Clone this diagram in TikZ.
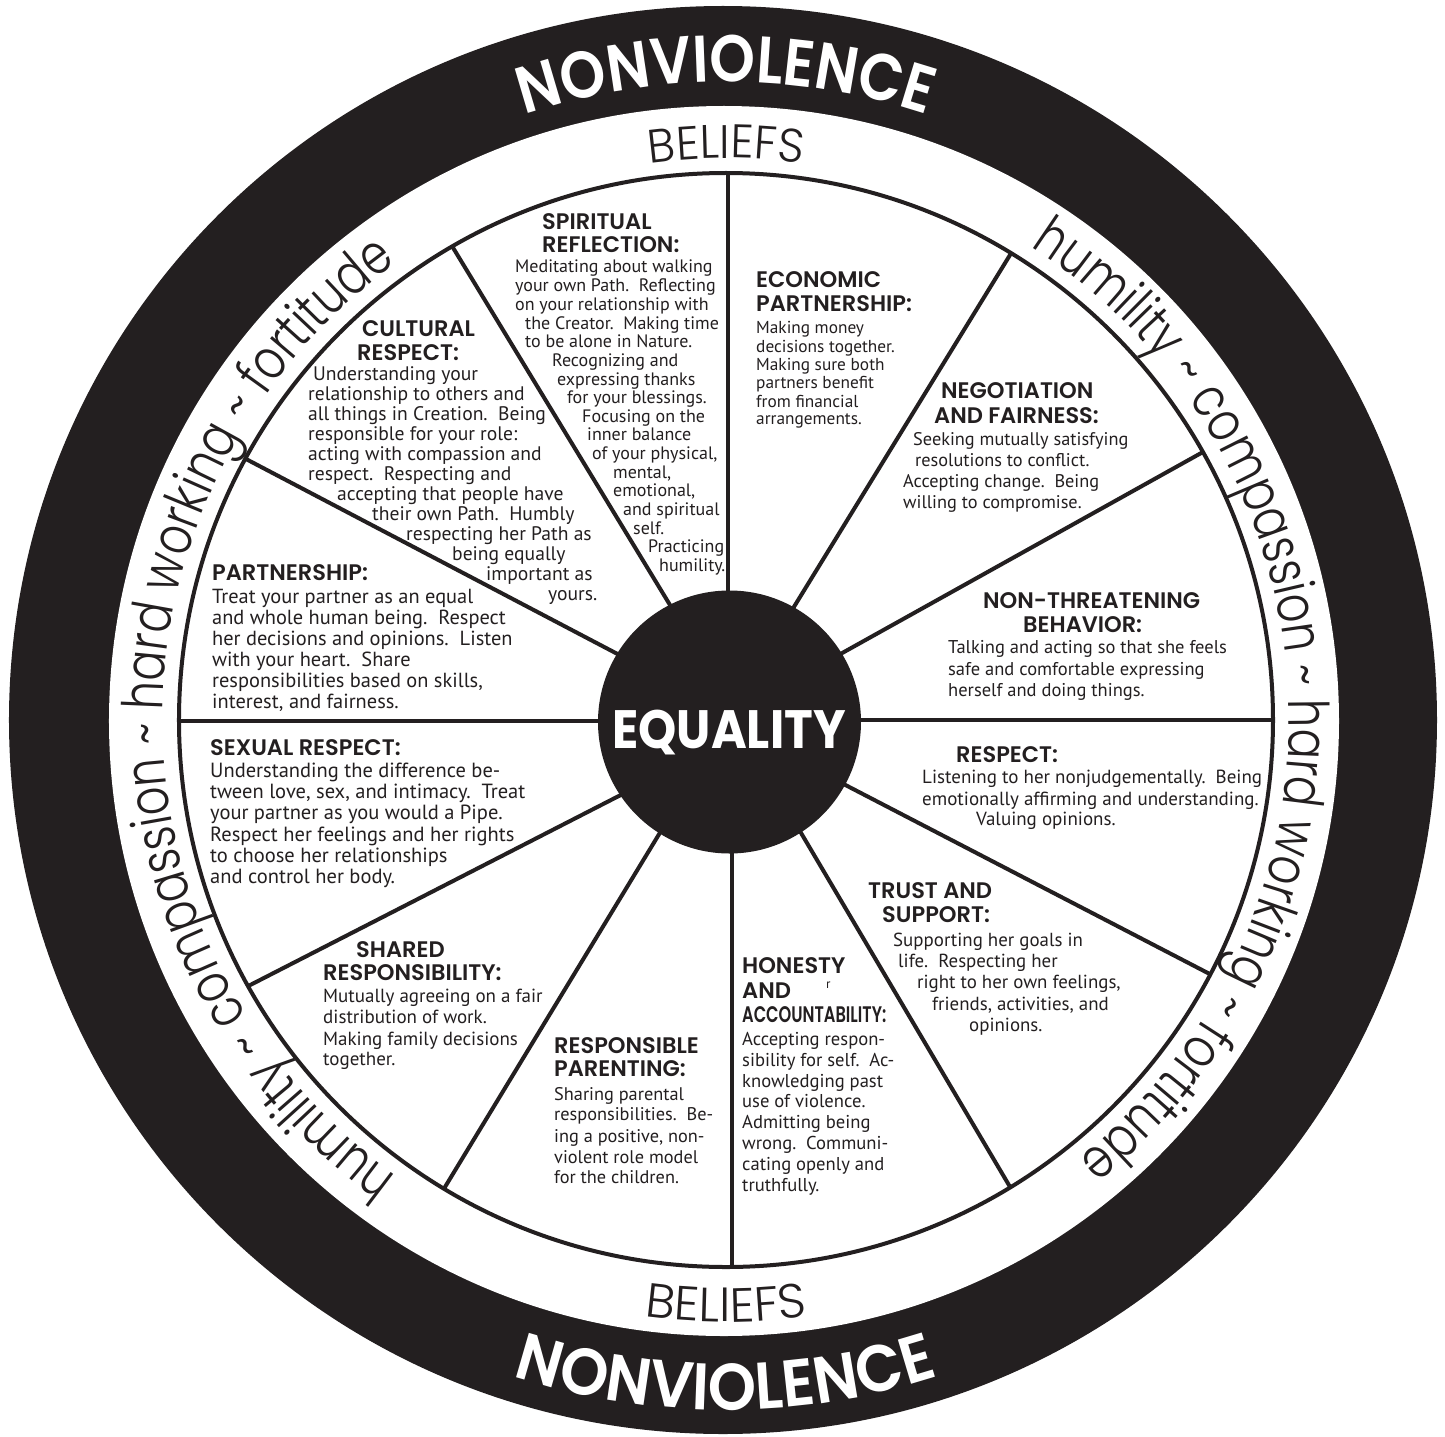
\documentclass[tikz,border=0pt]{standalone}
\usepackage{fontspec}
\usepackage{graphicx}
\usetikzlibrary{decorations.text}
\definecolor{ink}{RGB}{35,31,32}
\setmainfont{PT Sans}
\newfontfamily\bodyfont{PT Sans}
\IfFontExistsTF{Poppins SemiBold}
 {\newfontfamily\nvfont{Poppins SemiBold}[FakeStretch=0.88]
  \newfontfamily\nvfontb{Poppins SemiBold}[FakeStretch=0.93]
  \newfontfamily\headfont{Poppins SemiBold}}
 {\newfontfamily\nvfonta{Poppins}[FakeStretch=0.88]\newcommand\nvfont{\nvfonta\bfseries}
  \newfontfamily\nvfontbb{Poppins}[FakeStretch=0.93]\newcommand\nvfontb{\nvfontbb\bfseries}
  \newfontfamily\headfonta{Poppins}\newcommand\headfont{\headfonta\bfseries}}
\IfFontExistsTF{Poppins Bold}
 {\newfontfamily\eqfont{Poppins Bold}[FakeStretch=0.9]}
 {\newfontfamily\eqfontbase{Poppins}[FakeStretch=0.9]\newcommand\eqfont{\eqfontbase\bfseries}}
\IfFontExistsTF{Poppins Light}
 {\newfontfamily\belfont{Poppins Light}[FakeStretch=0.98]
  \newfontfamily\belfontb{Poppins Light}[FakeStretch=1.03]
  \newfontfamily\bandfont{Poppins Light}[FakeStretch=0.80]}
 {\newfontfamily\belfont{Poppins}[FakeStretch=0.98]
  \newfontfamily\belfontb{Poppins}[FakeStretch=1.03]
  \newfontfamily\bandfont{Poppins}[FakeStretch=0.80]}
\newcounter{tl}
\newcommand\bdline[3]{\stepcounter{tl}\node[bodytext] (t\arabic{tl}) at (#1,#2) {#3};}
\newcommand\hdline[3]{\stepcounter{tl}\node[headtext] (t\arabic{tl}) at (#1,#2) {#3};}
\begin{document}
\begin{tikzpicture}[x=1pt,y=1pt,
 bodytext/.style={anchor=base west,inner sep=0pt,text=ink,font=\bodyfont\fontsize{\bsz}{\bsz}\selectfont},
 headtext/.style={anchor=base west,inner sep=0pt,text=ink,font=\headfont\fontsize{22.5}{22.5}\selectfont},
 spoke/.style={draw=ink,line width=4pt}]
\def\bsz{18}
\useasboundingbox (-726,-716) rectangle (719,720);
% rings
\fill[ink] (-3,0) circle[radius=714];
\fill[white] (-2,-1) circle[radius=615];
\begin{scope}
\clip (0,0) circle[radius=547];
\begin{scope}[shift={(-726pt,720pt)},x=1pt,y=-1pt]
\draw[spoke] (728,700) -- (728,100);
\draw[spoke] (713.6,676.8) -- (408.4,174.2);
\draw[spoke] (682.7,688.2) -- (185,427);
\draw[spoke] (700,721) -- (100,721);
\draw[spoke] (681.2,764) -- (189.8,1016);
\draw[spoke] (704.2,759.8) -- (412.6,1240.4);
\draw[spoke] (732,740) -- (732,1350);
\draw[spoke] (720.5,696.5) -- (1125.8,1383);
\draw[spoke] (750,735.5) -- (1310,1026);
\draw[spoke] (750,720) -- (1350,720);
\draw[spoke] (741,709.4) -- (1343,374);
\draw[spoke] (742.8,690.2) -- (1093.5,119);
\end{scope}
\end{scope}
\draw[ink,line width=4] (0,0) circle[radius=547];
\node[circle,fill=ink,minimum size=263,inner sep=0] (hub) at (3.5,-2) {};
\node[text=white,font=\eqfont\fontsize{54}{54}\selectfont,anchor=base,inner sep=0] (eq) at (3,-28) {EQUALITY};
% curved texts
\path[decorate,decoration={text along path,text align=center,text color=white,
  text={|\nvfont\fontsize{66}{66}\selectfont|NONVIOLENCE}}]
  (140:638) arc[start angle=140,end angle=40,radius=638];
\path[decorate,decoration={text along path,text align=center,text color=white,
  text={|\nvfontb\fontsize{66}{66}\selectfont|NONVIOLENCE}}]
  (220:690) arc[start angle=220,end angle=320,radius=690];
\path[decorate,decoration={text along path,text align=center,text color=ink,
  text={|\belfont\fontsize{47}{47}\selectfont|BELIEFS}}]
  (120:562) arc[start angle=120,end angle=60,radius=562];
\path[decorate,decoration={text along path,text align=center,text color=ink,
  text={|\belfontb\fontsize{48}{48}\selectfont|BELIEFS}}]
  (240:602) arc[start angle=240,end angle=300,radius=602];
\path[decorate,decoration={text along path,text align=center,text color=ink,
  text={|\bandfont\fontsize{56}{56}\selectfont|humility {\textasciitilde} compassion {\textasciitilde} hard working {\textasciitilde} fortitude}}]
  (66:563) arc[start angle=66,end angle=-60,radius=563];
\path[decorate,decoration={text along path,text align=center,text color=ink,
  text={|\bandfont\fontsize{56}{56}\selectfont|humility {\textasciitilde} compassion {\textasciitilde} hard working {\textasciitilde} fortitude}}]
  (243:563) arc[start angle=243,end angle=117,radius=563];
% section texts in pixel coordinates
\begin{scope}[shift={(-726pt,720pt)},x=1pt,y=-1pt]
% Spiritual reflection
\def\bsz{18}
\hdline{542}{230}{SPIRITUAL}
\hdline{542}{253}{REFLECTION:}
\bdline{515}{273}{Meditating about walking}
\bdline{515}{291.7}{your own Path.\ \ Reflecting}
\bdline{515}{310.3}{on your relationship with}
\bdline{525}{329}{the Creator.\ \ Making time}
\bdline{525}{347.6}{to be alone in Nature.}
\bdline{552}{366.3}{Recognizing and}
\bdline{557}{385}{expressing thanks}
\bdline{567}{403.6}{for your blessings.}
\bdline{582}{422.2}{Focusing on the}
\bdline{587}{440.9}{inner balance}
\bdline{592}{459.5}{of your physical,}
\bdline{613}{478.2}{mental,}
\bdline{613}{496.8}{emotional,}
\bdline{623}{515.5}{and spiritual}
\bdline{633}{534.1}{self.}
\bdline{648}{552.8}{Practicing}
\bdline{659}{571.4}{humility.}
% Cultural respect
\def\bsz{19.6}
\hdline{362}{336}{CULTURAL}
\hdline{357}{360}{RESPECT:}
\bdline{313}{380}{Understanding your}
\bdline{308}{400}{relationship to others and}
\bdline{308}{420}{all things in Creation.\ \ Being}
\bdline{308}{440}{responsible for your role:}
\bdline{308}{460}{acting with compassion and}
\bdline{308}{480}{respect.\ \ Respecting and}
\bdline{337}{500}{accepting that people have}
\bdline{372}{520}{their own Path.\ \ Humbly}
\bdline{406}{540}{respecting her Path as}
\bdline{452}{560}{being equally}
\bdline{486}{580}{important as}
\bdline{548}{600}{yours.}
% Partnership
\def\bsz{20.4}
\hdline{212}{580}{PARTNERSHIP:}
\bdline{212}{603}{Treat your partner as an equal}
\bdline{212}{624}{and whole human being.\ \ Respect}
\bdline{212}{645}{her decisions and opinions.\ \ Listen}
\bdline{212}{666}{with your heart.\ \ Share}
\bdline{212}{687}{responsibilities based on skills,}
\bdline{212}{708}{interest, and fairness.}
% Sexual respect
\def\bsz{20.5}
\hdline{210}{755}{SEXUAL RESPECT:}
\bdline{210}{777}{Understanding the difference be-}
\bdline{210}{798}{tween love, sex, and intimacy.\ \ Treat}
\bdline{210}{819}{your partner as you would a Pipe.}
\bdline{210}{841}{Respect her feelings and her rights}
\bdline{210}{862}{to choose her relationships}
\bdline{210}{883}{and control her body.}
% Shared responsibility
\def\bsz{19}
\hdline{356}{957}{SHARED}
\hdline{323}{980}{RESPONSIBILITY:}
\bdline{323}{1002}{Mutually agreeing on a fair}
\bdline{323}{1023}{distribution of work.}
\bdline{323}{1045}{Making family decisions}
\bdline{323}{1065}{together.}
% Responsible parenting
\def\bsz{18.3}
\hdline{554}{1053}{RESPONSIBLE}
\hdline{554}{1076}{PARENTING:}
\bdline{554}{1100}{Sharing parental}
\bdline{554}{1120}{responsibilities.\ \ Be-}
\bdline{554}{1142}{ing a positive, non-}
\bdline{554}{1163}{violent role model}
\bdline{554}{1183}{for the children.}
% Honesty and accountability
\def\bsz{18.6}
\hdline{742}{973}{HONESTY}
\hdline{742}{998}{AND}
\hdline{742}{1022}{\scalebox{0.72}[1]{ACCOUNTABILITY:}}
\stepcounter{tl}\node[bodytext,font=\bodyfont\fontsize{13}{13}\selectfont] (t\arabic{tl}) at (826,988) {r};
\bdline{742}{1045}{Accepting respon-}
\bdline{742}{1066}{sibility for self.\ \ Ac-}
\bdline{742}{1087}{knowledging past}
\bdline{742}{1107}{use of violence.}
\bdline{742}{1128}{Admitting being}
\bdline{742}{1149}{wrong.\ \ Communi-}
\bdline{742}{1170}{cating openly and}
\bdline{742}{1191}{truthfully.}
% Trust and support
\def\bsz{18.9}
\hdline{868}{898}{TRUST AND}
\hdline{882}{922}{SUPPORT:}
\bdline{893}{946}{Supporting her goals in}
\bdline{898}{967}{life.\ \ Respecting her}
\bdline{917}{988}{right to her own feelings,}
\bdline{932}{1010}{friends, activities, and}
\bdline{969}{1031}{opinions.}
% Respect
\def\bsz{19}
\hdline{956}{762}{RESPECT:}
\bdline{922}{783}{Listening to her nonjudgementally.\ \ Being}
\bdline{922}{805}{emotionally affirming and understanding.}
\bdline{976}{825}{Valuing opinions.}
% Non-threatening behavior
\def\bsz{18.5}
\hdline{983}{608}{NON-THREATENING}
\hdline{1023}{632}{BEHAVIOR:}
\bdline{948}{653}{Talking and acting so that she feels}
\bdline{948}{675}{safe and comfortable expressing}
\bdline{948}{696}{herself and doing things.}
% Negotiation and fairness
\def\bsz{18.3}
\hdline{941}{398}{NEGOTIATION}
\hdline{934}{423}{AND FAIRNESS:}
\bdline{913}{445}{Seeking mutually satisfying}
\bdline{915}{466}{resolutions to conflict.}
\bdline{903}{487}{Accepting change.\ \ Being}
\bdline{903}{508}{willing to compromise.}
% Economic partnership
\def\bsz{17.3}
\hdline{756}{288}{ECONOMIC}
\hdline{756}{312}{PARTNERSHIP:}
\bdline{756}{333}{Making money}
\bdline{756}{352}{decisions together.}
\bdline{756}{370}{Making sure both}
\bdline{756}{388}{partners benefit}
\bdline{756}{407}{from financial}
\bdline{756}{424}{arrangements.}
\end{scope}
\end{tikzpicture}
\end{document}
